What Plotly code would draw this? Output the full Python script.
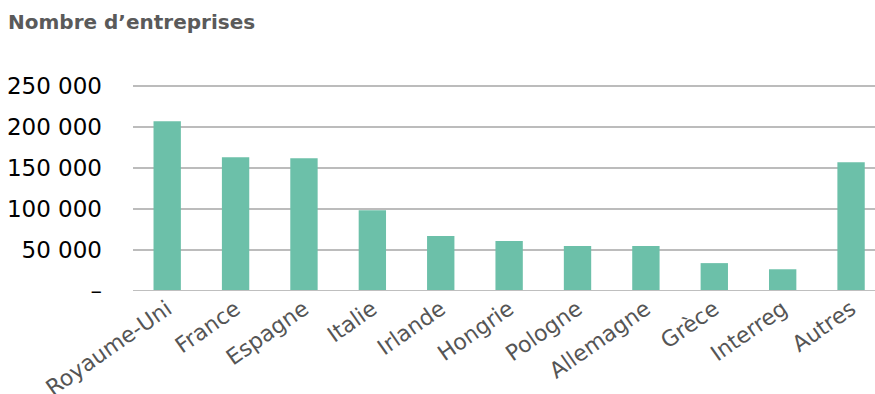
import plotly.graph_objects as go

categories = ["Royaume-Uni", "France", "Espagne", "Italie", "Irlande", "Hongrie",
              "Pologne", "Allemagne", "Grèce", "Interreg", "Autres"]
values = [207000, 163000, 162000, 98500, 67000, 61000, 55000, 55000, 34000, 26500, 157000]
tick_vals = [0, 50000, 100000, 150000, 200000, 250000]
tick_text = ["–", "50 000", "100 000", "150 000", "200 000", "250 000"]

fig = go.Figure()
fig.add_trace(go.Bar(x=categories, y=values, marker_color="#6cc0a9",
                     marker_line_width=0, width=0.4))

fig.update_layout(
    width=875, height=394,
    margin=dict(l=133, r=0, t=85, b=103, pad=0),
    paper_bgcolor="white", plot_bgcolor="white",
    font=dict(family="DejaVu Sans", size=20, color="black"),
    showlegend=False,
    title=dict(text="<b>Nombre d’entreprises</b>", x=8 / 875, xanchor="left",
               y=1 - 22 / 394, yanchor="middle",
               font=dict(family="DejaVu Sans", size=20, color="#5a5a5a")),
)

for v in tick_vals[1:]:
    fig.add_shape(type="line", xref="paper", yref="y", x0=0, x1=1.05, y0=v, y1=v,
                  line=dict(color="#a6a6a6", width=1.5), layer="below")
fig.add_shape(type="line", xref="paper", yref="y", x0=0, x1=1.05, y0=0, y1=0,
              line=dict(color="#bfbfbf", width=2), layer="above")

fig.update_xaxes(tickangle=-35, tickfont=dict(color="#555555", size=22),
                 range=[-0.5, 10.35],
                 showgrid=False, showline=False, ticks="", automargin=False)
fig.update_yaxes(range=[0, 251200], tickvals=tick_vals, ticktext=tick_text,
                 showgrid=False, zeroline=False,
                 ticks="", ticklabelstandoff=30, automargin=False,
                 tickfont=dict(size=23, color="black"))

fig.write_html("out.html")
